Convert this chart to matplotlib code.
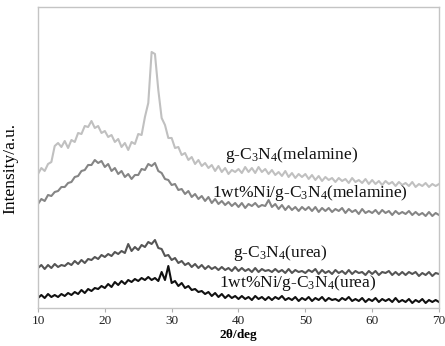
import numpy as np
import matplotlib
matplotlib.use('Agg')
from matplotlib import pyplot as plt

plt.rcParams['font.family'] = ['Liberation Serif', 'DejaVu Serif']
plt.rcParams['mathtext.fontset'] = 'custom'
plt.rcParams['mathtext.rm'] = 'Liberation Serif'
plt.rcParams['mathtext.it'] = 'Liberation Serif:italic'
plt.rcParams['mathtext.bf'] = 'Liberation Serif:bold'

# 2theta grid, 10..70 deg in 0.5 deg steps
two_theta = np.arange(10, 70.01, 0.5)

# intensities (arbitrary units, curves already offset)
melamine = [
    134, 140, 137, 144, 146, 162, 165, 161, 167, 160,
    168, 166, 175, 174, 182, 181, 187, 180, 182, 175,
    177, 171, 173, 166, 169, 161, 165, 158, 166, 164,
    174, 173, 191, 205, 256, 254, 218, 190, 183, 170,
    170, 160, 161, 153, 155, 148, 151, 144, 148, 142,
    145, 140, 143, 137, 142, 136, 140, 134, 138, 136,
    139, 135, 141, 136, 140, 135, 141, 136, 139, 134,
    138, 133, 136, 132, 137, 131, 135, 130, 134, 131,
    134, 129, 133, 128, 132, 127, 131, 128, 130, 126,
    130, 127, 129, 125, 130, 126, 128, 125, 129, 124,
    128, 124, 127, 123, 127, 124, 126, 122, 126, 123,
    125, 122, 126, 121, 124, 122, 125, 121, 124, 122,
    124,
]
ni_melamine = [
    104, 109, 107, 113, 112, 116, 117, 121, 121, 125,
    126, 131, 132, 137, 138, 143, 143, 148, 145, 147,
    141, 144, 137, 140, 134, 137, 131, 134, 129, 133,
    133, 139, 138, 144, 142, 145, 137, 135, 129, 128,
    123, 124, 118, 119, 114, 117, 111, 114, 109, 112,
    107, 111, 105, 109, 104, 107, 103, 106, 102, 105,
    101, 105, 100, 104, 102, 105, 101, 103, 102, 108,
    101, 104, 99, 103, 98, 102, 98, 101, 97, 101,
    98, 101, 97, 101, 96, 100, 97, 100, 96, 99,
    97, 100, 95, 99, 96, 98, 94, 99, 95, 97,
    95, 98, 94, 98, 95, 97, 93, 97, 94, 96,
    94, 97, 93, 96, 93, 95, 92, 96, 92, 95,
    93,
]
urea = [
    40, 43, 39, 43, 40, 44, 41, 43, 42, 45,
    43, 47, 44, 48, 45, 49, 48, 51, 49, 53,
    51, 54, 52, 56, 54, 57, 55, 64, 57, 61,
    58, 63, 61, 66, 64, 68, 60, 59, 52, 53,
    48, 50, 45, 47, 43, 45, 41, 44, 40, 43,
    39, 42, 39, 41, 38, 41, 38, 40, 37, 41,
    37, 40, 37, 39, 36, 40, 36, 39, 37, 38,
    36, 39, 36, 38, 35, 39, 35, 38, 36, 37,
    35, 38, 36, 39, 34, 38, 35, 37, 34, 38,
    35, 37, 34, 38, 34, 37, 35, 36, 33, 37,
    34, 37, 33, 36, 35, 37, 33, 36, 33, 36,
    33, 36, 34, 36, 32, 35, 33, 36, 32, 35,
    34,
]
ni_urea = [
    10, 13, 10, 14, 11, 13, 11, 14, 12, 15,
    13, 16, 14, 18, 15, 19, 17, 20, 19, 22,
    20, 24, 21, 26, 23, 27, 24, 28, 26, 29,
    27, 30, 28, 31, 28, 30, 27, 36, 28, 42,
    25, 27, 22, 25, 20, 22, 18, 19, 16, 17,
    14, 16, 12, 15, 11, 14, 10, 13, 10, 12,
    9, 12, 9, 11, 8, 12, 9, 11, 8, 11,
    8, 11, 9, 12, 8, 10, 8, 11, 7, 10,
    8, 11, 7, 10, 8, 11, 7, 10, 8, 9,
    7, 10, 8, 11, 7, 9, 7, 10, 6, 9,
    7, 10, 6, 9, 7, 9, 6, 10, 6, 8,
    6, 9, 5, 8, 6, 9, 5, 8, 6, 8,
    6,
]

series = [melamine, ni_melamine, urea, ni_urea]
colors = ['#c0c0c0', '#858585', '#555555', '#111111']
labels = [r'g-C$_3$N$_4$(melamine)', r'1wt%Ni/g-C$_3$N$_4$(melamine)',
          r'g-C$_3$N$_4$(urea)', r'1wt%Ni/g-C$_3$N$_4$(urea)']
label_pos = [(48.0, 153), (50.7, 115), (46.2, 55), (48.8, 25)]

fig = plt.figure(figsize=(4.45, 3.46), dpi=100)
ax = fig.add_axes([0.0854, 0.1098, 0.9011, 0.870])

for ys, c in zip(series, colors):
    ax.plot(two_theta, ys, color=c, lw=1.5)

for lab, (lx, ly) in zip(labels, label_pos):
    ax.text(lx, ly, lab, ha='center', va='center', fontsize=12.5, color='#111111')

ax.set_xlim(10, 70)
ax.set_ylim(0, 301)
ax.set_xticks([10, 20, 30, 40, 50, 60, 70])
ax.set_yticks([])
ax.tick_params(axis='x', direction='out', length=3, color='#b0b0b0',
               labelsize=9.5, labelcolor='#222222', pad=2)
for s in ax.spines.values():
    s.set_color('#c4c4c4')
    s.set_linewidth(1.0)

ax.set_xlabel(r'2$\mathbf{\theta}$/deg', fontsize=9.5, fontweight='bold')
ax.xaxis.set_label_coords(0.5, -0.064)
ax.set_ylabel('Intensity/a.u.', fontsize=12.5)
ax.yaxis.set_label_coords(-0.05, 0.465)

fig.savefig('out.png', dpi=100)
